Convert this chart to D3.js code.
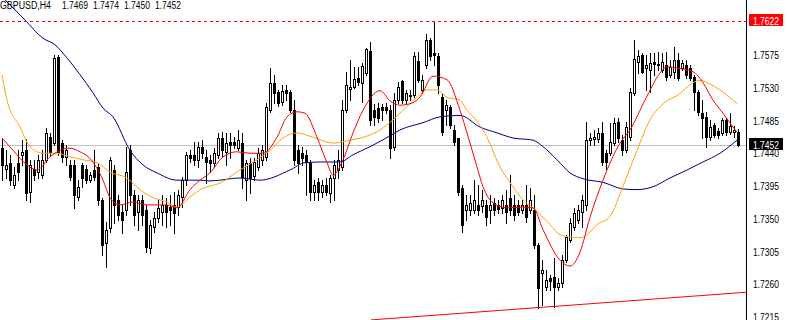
<!DOCTYPE html>
<html>
<head>
<meta charset="utf-8">
<script src="https://cdn.jsdelivr.net/npm/d3@7"></script>
<style>
  body { margin: 0; background: #fff; }
  svg { display: block; }
  text { font-family: "Liberation Sans Narrow", "Liberation Sans", Arial, sans-serif; }
</style>
</head>
<body>
<script>
// GBPUSD H4 bars, oldest first
let opens = [1.7447,1.7419,1.7427,1.7396,1.7427,1.7438,1.7444,1.7387,1.7419,1.7414,
  1.7410,1.7431,1.7462,1.7454,1.7572,1.7454,1.7435,1.7424,1.7424,1.7380,
  1.7424,1.7419,1.7403,1.7417,1.7421,1.7376,1.7317,1.7337,1.7417,1.7376,
  1.7359,1.7362,1.7444,1.7383,1.7359,1.7376,1.7362,1.7310,1.7339,1.7351,
  1.7359,1.7369,1.7366,1.7369,1.7366,1.7380,1.7403,1.7438,1.7438,1.7431,
  1.7449,1.7435,1.7431,1.7427,1.7438,1.7461,1.7442,1.7455,1.7455,1.7447,
  1.7454,1.7403,1.7427,1.7409,1.7421,1.7431,1.7435,1.7499,1.7537,1.7524,
  1.7510,1.7527,1.7524,1.7499,1.7444,1.7440,1.7438,1.7427,1.7387,1.7400,
  1.7387,1.7396,1.7385,1.7406,1.7417,1.7421,1.7499,1.7528,1.7531,1.7543,
  1.7537,1.7550,1.7580,1.7499,1.7502,1.7504,1.7504,1.7499,1.7449,1.7513,
  1.7539,1.7513,1.7520,1.7520,1.7567,1.7527,1.7561,1.7596,1.7578,1.7574,
  1.7517,1.7499,1.7504,1.7472,1.7461,1.7392,1.7362,1.7362,1.7362,1.7369,
  1.7368,1.7369,1.7362,1.7372,1.7369,1.7365,1.7369,1.7379,1.7369,1.7369,
  1.7362,1.7369,1.7362,1.7362,1.7314,1.7275,1.7256,1.7269,1.7270,1.7256,
  1.7262,1.7293,1.7321,1.7339,1.7348,1.7359,1.7369,1.7458,1.7460,1.7460,
  1.7468,1.7440,1.7440,1.7454,1.7483,1.7458,1.7444,1.7462,1.7523,1.7565,
  1.7575,1.7557,1.7554,1.7565,1.7563,1.7554,1.7561,1.7548,1.7552,1.7568,
  1.7557,1.7561,1.7557,1.7545,1.7524,1.7495,1.7490,1.7462,1.7479,1.7471,
  1.7468,1.7486,1.7469,1.7469,1.7469];
let highs = [1.7461,1.7444,1.7438,1.7421,1.7444,1.7458,1.7460,1.7431,1.7431,1.7438,
  1.7444,1.7475,1.7468,1.7575,1.7575,1.7458,1.7451,1.7431,1.7431,1.7403,
  1.7427,1.7424,1.7414,1.7444,1.7427,1.7379,1.7346,1.7435,1.7424,1.7383,
  1.7369,1.7449,1.7451,1.7390,1.7383,1.7383,1.7369,1.7348,1.7359,1.7376,
  1.7383,1.7379,1.7383,1.7387,1.7390,1.7407,1.7442,1.7444,1.7455,1.7455,
  1.7458,1.7444,1.7438,1.7447,1.7468,1.7469,1.7468,1.7468,1.7462,1.7472,
  1.7468,1.7431,1.7433,1.7433,1.7447,1.7451,1.7509,1.7557,1.7548,1.7527,
  1.7534,1.7534,1.7527,1.7513,1.7451,1.7449,1.7444,1.7431,1.7403,1.7406,
  1.7403,1.7406,1.7410,1.7431,1.7444,1.7513,1.7552,1.7568,1.7559,1.7559,
  1.7564,1.7585,1.7593,1.7508,1.7509,1.7508,1.7509,1.7506,1.7523,1.7538,
  1.7541,1.7527,1.7527,1.7579,1.7579,1.7548,1.7604,1.7598,1.7622,1.7578,
  1.7523,1.7513,1.7506,1.7479,1.7461,1.7396,1.7383,1.7383,1.7403,1.7396,
  1.7390,1.7376,1.7383,1.7379,1.7376,1.7383,1.7390,1.7410,1.7383,1.7376,
  1.7376,1.7396,1.7392,1.7383,1.7317,1.7293,1.7280,1.7273,1.7296,1.7269,
  1.7300,1.7328,1.7351,1.7365,1.7369,1.7383,1.7483,1.7468,1.7472,1.7475,
  1.7483,1.7444,1.7482,1.7488,1.7488,1.7465,1.7483,1.7530,1.7596,1.7582,
  1.7578,1.7575,1.7578,1.7578,1.7579,1.7578,1.7579,1.7568,1.7586,1.7578,
  1.7568,1.7568,1.7561,1.7548,1.7527,1.7513,1.7497,1.7486,1.7482,1.7475,
  1.7488,1.7488,1.7495,1.7477,1.7474];
let lows = [1.7403,1.7406,1.7396,1.7392,1.7403,1.7424,1.7376,1.7373,1.7403,1.7406,
  1.7406,1.7428,1.7436,1.7451,1.7438,1.7428,1.7424,1.7403,1.7365,1.7376,
  1.7394,1.7399,1.7400,1.7403,1.7369,1.7300,1.7284,1.7332,1.7344,1.7348,
  1.7330,1.7355,1.7369,1.7341,1.7335,1.7341,1.7304,1.7303,1.7332,1.7346,
  1.7341,1.7339,1.7341,1.7330,1.7355,1.7366,1.7396,1.7428,1.7424,1.7421,
  1.7433,1.7399,1.7414,1.7421,1.7433,1.7435,1.7424,1.7433,1.7447,1.7444,
  1.7392,1.7376,1.7385,1.7403,1.7417,1.7424,1.7431,1.7497,1.7509,1.7505,
  1.7506,1.7513,1.7497,1.7424,1.7413,1.7424,1.7383,1.7376,1.7376,1.7376,
  1.7380,1.7383,1.7373,1.7376,1.7406,1.7417,1.7497,1.7513,1.7530,1.7534,
  1.7510,1.7548,1.7479,1.7479,1.7483,1.7486,1.7495,1.7433,1.7444,1.7509,
  1.7509,1.7509,1.7513,1.7517,1.7538,1.7524,1.7557,1.7568,1.7561,1.7523,
  1.7465,1.7479,1.7475,1.7451,1.7383,1.7332,1.7348,1.7355,1.7358,1.7355,
  1.7359,1.7341,1.7344,1.7355,1.7358,1.7358,1.7344,1.7355,1.7348,1.7355,
  1.7358,1.7346,1.7358,1.7310,1.7227,1.7231,1.7252,1.7252,1.7229,1.7252,
  1.7256,1.7291,1.7318,1.7335,1.7344,1.7339,1.7362,1.7451,1.7451,1.7455,
  1.7424,1.7419,1.7438,1.7451,1.7455,1.7438,1.7442,1.7458,1.7520,1.7550,
  1.7550,1.7527,1.7524,1.7548,1.7554,1.7552,1.7541,1.7545,1.7543,1.7541,
  1.7554,1.7543,1.7541,1.7499,1.7493,1.7461,1.7449,1.7458,1.7462,1.7461,
  1.7465,1.7465,1.7466,1.7462,1.7450];
let closes = [1.7424,1.7424,1.7403,1.7410,1.7414,1.7442,1.7385,1.7424,1.7410,1.7431,
  1.7431,1.7468,1.7442,1.7571,1.7442,1.7435,1.7444,1.7407,1.7383,1.7394,
  1.7406,1.7403,1.7410,1.7407,1.7376,1.7314,1.7335,1.7431,1.7369,1.7355,
  1.7348,1.7414,1.7383,1.7355,1.7376,1.7355,1.7311,1.7341,1.7351,1.7365,
  1.7369,1.7359,1.7362,1.7358,1.7383,1.7403,1.7438,1.7433,1.7431,1.7449,
  1.7440,1.7428,1.7427,1.7440,1.7461,1.7444,1.7454,1.7451,1.7451,1.7458,
  1.7407,1.7427,1.7406,1.7428,1.7440,1.7444,1.7504,1.7537,1.7523,1.7509,
  1.7526,1.7523,1.7499,1.7431,1.7427,1.7433,1.7428,1.7387,1.7396,1.7387,
  1.7396,1.7387,1.7406,1.7424,1.7431,1.7499,1.7534,1.7531,1.7542,1.7538,
  1.7560,1.7583,1.7486,1.7490,1.7488,1.7499,1.7499,1.7447,1.7513,1.7531,
  1.7513,1.7523,1.7519,1.7574,1.7541,1.7541,1.7596,1.7574,1.7575,1.7534,
  1.7469,1.7506,1.7479,1.7455,1.7387,1.7341,1.7369,1.7372,1.7376,1.7362,
  1.7376,1.7352,1.7369,1.7362,1.7363,1.7376,1.7359,1.7362,1.7355,1.7359,
  1.7369,1.7352,1.7376,1.7314,1.7255,1.7280,1.7266,1.7265,1.7256,1.7262,
  1.7293,1.7325,1.7344,1.7358,1.7362,1.7376,1.7458,1.7461,1.7462,1.7468,
  1.7428,1.7428,1.7455,1.7482,1.7461,1.7444,1.7476,1.7524,1.7569,1.7574,
  1.7552,1.7561,1.7564,1.7563,1.7561,1.7565,1.7545,1.7559,1.7568,1.7543,
  1.7564,1.7548,1.7543,1.7524,1.7497,1.7488,1.7462,1.7476,1.7465,1.7465,
  1.7486,1.7469,1.7477,1.7472,1.7452];

// moving averages: bar position + value
let fastIdx = [0,2.75,6.25,8.75,12,14.5,17,19.5,22,25.25,27,29.5,32.75,36.25,41.25,43.75,47,49.5,52,55.25,58.75,62,65.25,68.75,71.25,73.75,75.75,78.75,81.25,82.75,85.25,87.75,90.25,94.5,97,99.5,102,104.5,107.75,111.25,114.5,116.25,118.75,120.25,122.75,126.25,129.5,132.75,135.25,139.5,142,144.5,147,150.25,154.5,157,160.75,164.5,166.25,168.75,172.75,175.25,177.75,180.25,182.75,183.75];
let fastMa = [1.7461,1.7444,1.7424,1.7417,1.7435,1.7444,1.7447,1.7442,1.7433,1.7403,1.7379,1.7369,1.7373,1.7369,1.7369,1.7365,1.7390,1.7403,1.7413,1.7435,1.7442,1.7440,1.7440,1.7462,1.7490,1.7497,1.7495,1.7462,1.7427,1.7410,1.7431,1.7468,1.7499,1.7526,1.7512,1.7506,1.7508,1.7517,1.7546,1.7541,1.7499,1.7468,1.7421,1.7394,1.7372,1.7365,1.7366,1.7365,1.7335,1.7293,1.7285,1.7304,1.7352,1.7403,1.7454,1.7472,1.7513,1.7550,1.7559,1.7557,1.7552,1.7537,1.7513,1.7495,1.7476,1.7469];

let midIdx = [0,1.25,4.5,7,10.25,13.75,17,20.25,23.75,27,31.25,34.5,37.75,41.25,43.75,47,50.25,54.5,59.5,63.75,67,70.25,73.75,77.75,82.75,87,92,94.5,97.75,100.25,103.75,106.25,108.75,111.25,114.5,116.25,117,121.25,124.5,127.75,130.25,132.75,137,139.5,142,144.5,146.25,148.75,152,155.25,158.75,162,165.75,169,172.75,174.5,177,180.25,183.75];
let midMa = [1.7548,1.7513,1.7476,1.7449,1.7440,1.7440,1.7435,1.7431,1.7427,1.7414,1.7406,1.7390,1.7379,1.7373,1.7366,1.7380,1.7392,1.7399,1.7417,1.7431,1.7444,1.7461,1.7468,1.7462,1.7454,1.7458,1.7465,1.7472,1.7486,1.7499,1.7517,1.7527,1.7527,1.7517,1.7513,1.7499,1.7495,1.7462,1.7421,1.7394,1.7376,1.7365,1.7342,1.7328,1.7325,1.7324,1.7328,1.7342,1.7353,1.7395,1.7444,1.7486,1.7510,1.7520,1.7537,1.7540,1.7535,1.7524,1.7508];

let slowIdx = [0,5.75,10.25,13.25,16.25,19.5,22.75,25.25,27.75,32,35.25,38.75,43.75,49.5,52,59.5,64.5,72,75.75,80.25,84.5,87.75,92,97,99.5,105.25,109.5,114.5,119.5,123.75,127.75,132.75,135.25,138.75,142,145.25,150.25,155.25,158.75,162.75,167,171.25,175.25,179.5,183.75];
let slowMa = [1.7655,1.7623,1.7598,1.7589,1.7571,1.7548,1.7523,1.7502,1.7490,1.7444,1.7424,1.7413,1.7403,1.7403,1.7402,1.7406,1.7403,1.7417,1.7427,1.7428,1.7428,1.7438,1.7449,1.7464,1.7472,1.7482,1.7490,1.7492,1.7476,1.7468,1.7461,1.7458,1.7449,1.7431,1.7413,1.7405,1.7400,1.7391,1.7390,1.7394,1.7406,1.7417,1.7428,1.7440,1.7458];

let priceTicks = [1.7575, 1.7530, 1.7485, 1.7440, 1.7395, 1.7350, 1.7305, 1.7260, 1.7215];
let symbol = "GBPUSD,H4";
let lastBar = [1.7469, 1.7474, 1.7450, 1.7452];
let highLine = 1.7622;
let bid = 1.7452;
let trendIdx = [92.25, 186];
let trendPrice = [1.7211, 1.7249];

const W = 787, H = 320, axisX = 746;
const n = closes.length;

let svg = d3.select("body").append("svg")
  .attr("width", W)
  .attr("height", H)
  .style("background", "#fff");

let x = d3.scaleLinear().domain([0, n - 1]).range([2, 738]);
let y = d3.scaleLinear().domain([1.7215, 1.7575]).range([317, 55]);
let py = v => Math.round(y(v));

svg.append("clipPath").attr("id", "clip")
  .append("rect").attr("width", axisX).attr("height", H);
let g = svg.append("g").attr("clip-path", "url(#clip)");

// bid line
g.append("line")
  .attr("x1", 0).attr("x2", axisX)
  .attr("y1", py(bid) + 0.5).attr("y2", py(bid) + 0.5)
  .attr("stroke", "#c0c0c0");

// candles
let bars = g.append("g").attr("shape-rendering", "crispEdges");
d3.range(n).forEach(i => {
  let cx = Math.round(x(i));
  bars.append("line")
    .attr("x1", cx + 0.5).attr("x2", cx + 0.5)
    .attr("y1", py(highs[i])).attr("y2", py(lows[i]) + 1)
    .attr("stroke", "#000");
  let top = py(Math.max(opens[i], closes[i]));
  let bot = py(Math.min(opens[i], closes[i]));
  if (bot - top < 1) {
    bars.append("line")
      .attr("x1", cx - 1).attr("x2", cx + 2)
      .attr("y1", top + 0.5).attr("y2", top + 0.5)
      .attr("stroke", "#000");
    return;
  }
  bars.append("rect")
    .attr("x", cx - 0.5).attr("y", top + 0.5)
    .attr("width", 2).attr("height", bot - top)
    .attr("fill", closes[i] >= opens[i] ? "#fff" : "#000")
    .attr("stroke", "#000");
});

// moving averages
function maLine(idx, vals, color) {
  let line = d3.line()
    .x((d, k) => x(idx[k]))
    .y(d => y(d))
    .curve(d3.curveMonotoneX);
  g.append("path")
    .datum(vals)
    .attr("d", line)
    .attr("fill", "none")
    .attr("stroke", color)
    .attr("stroke-width", 1);
}
maLine(slowIdx, slowMa, "#000080");
maLine(midIdx, midMa, "#ffa500");
maLine(fastIdx, fastMa, "#ff0000");

// trend line
g.append("line")
  .attr("x1", x(trendIdx[0])).attr("y1", y(trendPrice[0]))
  .attr("x2", x(trendIdx[1])).attr("y2", y(trendPrice[1]))
  .attr("stroke", "#ff0000");

// high dashed line
g.append("line")
  .attr("x1", 0).attr("x2", axisX)
  .attr("y1", py(highLine) + 0.5).attr("y2", py(highLine) + 0.5)
  .attr("stroke", "#ff0000")
  .attr("shape-rendering", "crispEdges")
  .attr("stroke-dasharray", "3,3");

// price axis
svg.append("line")
  .attr("x1", axisX + 0.5).attr("x2", axisX + 0.5)
  .attr("y1", 0).attr("y2", H)
  .attr("stroke", "#000");

svg.selectAll(".tick").data(priceTicks).enter()
  .append("text")
  .attr("x", 753).attr("y", d => py(d) + 4)
  .attr("font-size", 10)
  .attr("textLength", 26)
  .attr("lengthAdjust", "spacingAndGlyphs")
  .attr("fill", "#000")
  .text(d => d.toFixed(4));

function tag(v, fill) {
  let yy = py(v);
  svg.append("rect")
    .attr("x", 749).attr("y", yy - 7)
    .attr("width", 34).attr("height", 12)
    .attr("fill", fill);
  svg.append("text")
    .attr("x", 753).attr("y", yy + 3.5)
    .attr("font-size", 10)
    .attr("textLength", 26)
    .attr("lengthAdjust", "spacingAndGlyphs")
    .attr("fill", "#fff")
    .text(v.toFixed(4));
}
tag(highLine, "#ff0000");
tag(bid, "#000");

// title
svg.append("text")
  .attr("x", 0).attr("y", 9)
  .attr("font-size", 10)
  .attr("textLength", 51)
  .attr("lengthAdjust", "spacingAndGlyphs")
  .attr("fill", "#000")
  .text(symbol);
lastBar.forEach((v, k) => {
  svg.append("text")
    .attr("x", 62 + k * 31).attr("y", 9)
    .attr("font-size", 10)
    .attr("textLength", 26)
    .attr("lengthAdjust", "spacingAndGlyphs")
    .attr("fill", "#000")
    .text(v.toFixed(4));
});
</script>
</body>
</html>
